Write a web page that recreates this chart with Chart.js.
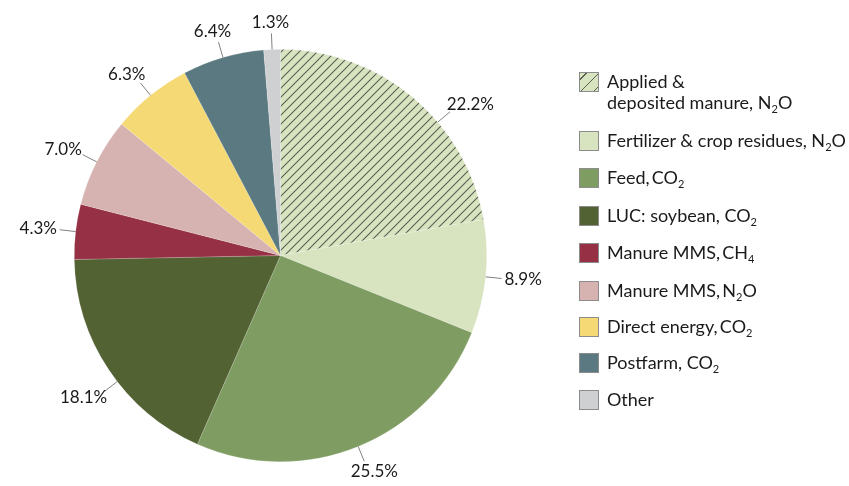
<!DOCTYPE html>
<html>
<head>
<meta charset="utf-8">
<script src="https://cdn.jsdelivr.net/npm/chart.js@4.4.1/dist/chart.umd.min.js"></script>
<style>
  html, body { margin: 0; padding: 0; background: #fff; }
  #wrap { position: relative; width: 849px; height: 486px; }
  #pie { position: absolute; left: 0; top: 0; }
  #legend { position: absolute; left: 579px; top: 0; font-family: Lato, "Noto Sans", sans-serif; font-size: 18px; color: #1a1a1a; }
  .item { position: absolute; left: 0; white-space: nowrap; }
  .box { position: absolute; left: 0; width: 20px; height: 20px; border: 1px solid #8c8c8c; box-sizing: border-box; }
  .txt { position: absolute; left: 28px; line-height: 21px; }
  sub { font-size: 11px; vertical-align: -4px; line-height: 0; }
</style>
</head>
<body>
<div id="wrap">
  <canvas id="pie" width="849" height="486"></canvas>
  <div id="legend"></div>
</div>
<script>
// data
const categories = [
  "Applied & deposited manure, N2O",
  "Fertilizer & crop residues, N2O",
  "Feed, CO2",
  "LUC: soybean, CO2",
  "Manure MMS, CH4",
  "Manure MMS, N2O",
  "Direct energy, CO2",
  "Postfarm, CO2",
  "Other"
];
const legendLabels = [
  "Applied &amp;<br>deposited manure, N<sub>2</sub>O",
  "Fertilizer &amp; crop residues, N<sub>2</sub>O",
  "Feed,&thinsp;CO<sub>2</sub>",
  "LUC: soybean, CO<sub>2</sub>",
  "Manure MMS,&thinsp;CH<sub>4</sub>",
  "Manure MMS,&thinsp;N<sub>2</sub>O",
  "Direct energy,&thinsp;CO<sub>2</sub>",
  "Postfarm, CO<sub>2</sub>",
  "Other"
];
const shares = [22.2, 8.9, 25.5, 18.1, 4.3, 7.0, 6.3, 6.4, 1.3];

const colors = ["#d8e4bf", "#d8e4bf", "#7f9c62", "#536233", "#953045", "#d6b3b1", "#f4d974", "#5a7980", "#cfd0d2"];

// hatch for the first slice
function hatchPattern(bg, fg) {
  const s = 9;
  const c = document.createElement("canvas");
  c.width = s; c.height = s;
  const g = c.getContext("2d");
  g.fillStyle = bg;
  g.fillRect(0, 0, s, s);
  g.strokeStyle = fg;
  g.lineWidth = 1.1;
  g.beginPath();
  g.moveTo(0, s); g.lineTo(s, 0);
  g.moveTo(-2, 2); g.lineTo(2, -2);
  g.moveTo(s - 2, s + 2); g.lineTo(s + 2, s - 2);
  g.stroke();
  return g.createPattern(c, "repeat");
}

const ctx = document.getElementById("pie").getContext("2d");
const fills = colors.slice();
fills[0] = hatchPattern(colors[0], "#5a5f55");

const outsideLabels = {
  id: "outsideLabels",
  afterDraw(chart) {
    const meta = chart.getDatasetMeta(0);
    const c = chart.ctx;
    c.save();
    c.font = "17px Lato, 'Noto Sans', sans-serif";
    c.textAlign = "center";
    c.textBaseline = "middle";
    meta.data.forEach((arc, i) => {
      const p = arc.getProps(["x", "y", "startAngle", "endAngle", "outerRadius"], true);
      let a = (p.startAngle + p.endAngle) / 2;
      if (i === 0) a += 0.17;
      if (i === 3) a -= 0.07;
      const dx = Math.cos(a), dy = Math.sin(a);
      const r0 = p.outerRadius, r1 = p.outerRadius + 16;
      const x1 = p.x + dx * r1, y1 = p.y + dy * r1;
      c.strokeStyle = "#808080";
      c.lineWidth = 1;
      c.beginPath();
      c.moveTo(p.x + dx * r0, p.y + dy * r0);
      c.lineTo(x1, y1);
      c.stroke();
      const txt = shares[i].toFixed(1) + "%";
      const w = c.measureText(txt).width, h = 15;
      c.fillStyle = "#1a1a1a";
      c.fillText(txt, x1 + dx * (w / 2 + 3), y1 + dy * (h / 2 + 3));
    });
    c.restore();
  }
};

new Chart(ctx, {
  type: "pie",
  data: {
    labels: categories,
    datasets: [{
      data: shares,
      backgroundColor: fills,
      borderColor: "rgba(255,255,255,0.35)",
      borderWidth: 0.5
    }]
  },
  options: {
    responsive: false,
    animation: false,
    layout: { padding: { left: 74, right: 362, top: 49, bottom: 24 } },
    plugins: {
      legend: { display: false },
      tooltip: { enabled: false }
    }
  },
  plugins: [outsideLabels]
});

// legend
const legendDiv = document.getElementById("legend");
const rowTops = [72, 131, 168, 206, 243, 281, 317, 353, 390];
legendLabels.forEach((lab, i) => {
  const item = document.createElement("div");
  item.className = "item";
  item.style.top = rowTops[i] + "px";
  const box = document.createElement("div");
  box.className = "box";
  box.style.background = i === 0
    ? "repeating-linear-gradient(135deg, #d8e4bf 0 4px, #5a5f55 4px 5px, #d8e4bf 5px 9px)"
    : colors[i];
  const t = document.createElement("div");
  t.className = "txt";
  t.style.top = "-1px";
  t.innerHTML = lab;
  item.appendChild(box);
  item.appendChild(t);
  legendDiv.appendChild(item);
});
</script>
</body>
</html>
